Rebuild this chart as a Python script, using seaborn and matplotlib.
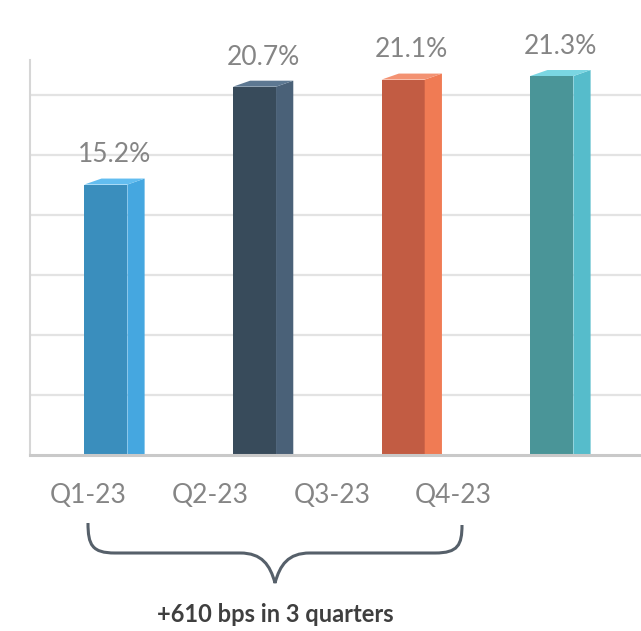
import numpy as np
import pandas as pd
import matplotlib
matplotlib.use("Agg")
import matplotlib.pyplot as plt
from matplotlib.patches import Polygon, PathPatch
from matplotlib.path import Path
import seaborn as sns

# ---- data ----
quarters = ["Q1-23", "Q2-23", "Q3-23", "Q4-23"]
margins = [15.2, 20.7, 21.1, 21.3]
value_labels = ["15.2%", "20.7%", "21.1%", "21.3%"]
summary_text = "+610 bps in 3 quarters"

front_colors = ["#3a8ebd", "#384b5b", "#c25c43", "#4a9598"]
side_colors = ["#45a7e0", "#4a6178", "#f07b54", "#56bccb"]
top_colors = ["#62bdf0", "#5d7892", "#f39272", "#7ad6e2"]

sns.set_theme(style="white")
plt.rcParams["font.family"] = ["Lato", "DejaVu Sans"]

W, H = 641, 631
fig = plt.figure(figsize=(W / 100, H / 100), dpi=100)
ax = fig.add_axes([30 / W, (H - 455) / H, 1 - 30 / W, (455 - 60) / H])

df = pd.DataFrame({"quarter": quarters, "margin": margins})
sns.barplot(data=df, x="quarter", y="margin", hue="quarter",
            palette=front_colors, legend=False, width=0.29,
            saturation=1, ax=ax, zorder=3, linewidth=0, edgecolor="none")

ymax = 22.2
ax.set_ylim(0, ymax)
ax.set_xlim(-0.51, 3.6)

# gridlines
step = ymax * 60 / 395
ax.set_yticks(np.arange(step, ymax, step))
ax.yaxis.grid(True, color="#e3e3e3", lw=1.6, zorder=0)
ax.set_yticklabels([])
ax.tick_params(axis="y", length=0)
ax.set_ylabel("")
ax.set_xlabel("")

for s in ["top", "right"]:
    ax.spines[s].set_visible(False)
ax.spines["left"].set_color("#d6d6d6")
ax.spines["left"].set_linewidth(1.5)
ax.spines["bottom"].set_color("#c9c9c9")
ax.spines["bottom"].set_linewidth(2.2)
ax.spines["bottom"].set_zorder(5)

label_color = "#858585"

# pseudo-3D faces
dy = 6 / 395 * ymax
for i, p in enumerate(ax.patches):
    x0, w, h = p.get_x(), p.get_width(), p.get_height()
    dx = 0.4 * w
    side = Polygon([(x0 + w, 0), (x0 + w + dx, 0), (x0 + w + dx, h + dy), (x0 + w, h)],
                   closed=True, facecolor=side_colors[i], edgecolor="none", zorder=3)
    top = Polygon([(x0, h), (x0 + w, h), (x0 + w + dx, h + dy), (x0 + dx, h + dy)],
                  closed=True, facecolor=top_colors[i], edgecolor="none", zorder=3)
    ax.add_patch(side)
    ax.add_patch(top)
    ax.annotate(value_labels[i], (x0 + (w + dx) / 2, h + dy), xytext=(0, 8),
                textcoords="offset points", ha="center", va="bottom",
                fontsize=19, color=label_color, fontweight="normal")

# category labels (shifted as in the reference photo)
label_pos = [i * 0.82 - 0.12 for i in range(len(quarters))]
ax.set_xticks(label_pos)
ax.set_xticklabels(quarters, fontsize=19, color=label_color, fontweight="normal")
ax.tick_params(axis="x", length=0, pad=20)

# curly brace
def fx(x):
    return x / W

def fy(y):
    return 1 - y / H

pts = [
    (88, 523),
    (88, 545), (92, 553), (115, 553),
    (240, 553),
    (262, 553), (270, 565), (275, 583),
    (280, 565), (288, 553), (310, 553),
    (435, 553),
    (458, 553), (462, 545), (462, 525),
]
codes = [Path.MOVETO,
         Path.CURVE4, Path.CURVE4, Path.CURVE4,
         Path.LINETO,
         Path.CURVE4, Path.CURVE4, Path.CURVE4,
         Path.CURVE4, Path.CURVE4, Path.CURVE4,
         Path.LINETO,
         Path.CURVE4, Path.CURVE4, Path.CURVE4]
brace = Path([(fx(x), fy(y)) for x, y in pts], codes)
fig.patches.append(PathPatch(brace, transform=fig.transFigure, facecolor="none",
                             edgecolor="#56606a", lw=2.2))

fig.text(fx(275), fy(615), summary_text, ha="center", va="center",
         fontsize=17, fontweight="bold", color="#3f3f3f")

fig.savefig("out.png", dpi=100, facecolor="white")
